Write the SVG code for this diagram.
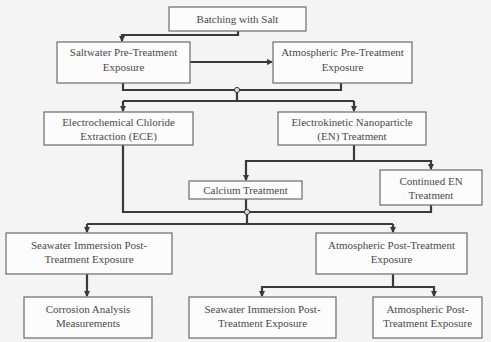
<svg xmlns="http://www.w3.org/2000/svg" width="491" height="342" viewBox="0 0 491 342">
<defs>
<style>
.box{fill:#fcfcfc;stroke:#6a6a6a;stroke-width:1.2}
.t{font-family:'Liberation Serif','DejaVu Serif',serif;font-size:11px;fill:#4a4a4a;text-anchor:middle}
.c{fill:none;stroke:#3a3a3a;stroke-width:2.2}
.j{fill:#cfe0e6;stroke:#3a3a3a;stroke-width:1}
</style>
<marker id="a" viewBox="0 0 6 6" refX="5" refY="3" markerWidth="3" markerHeight="3" orient="auto"><path d="M0,0L6,3L0,6z" fill="#3a3a3a"/></marker>
</defs>
<rect width="491" height="342" fill="#f4f4f4"/>
<g id="connectors">
<path class="c" d="M238,31V35H122V41" marker-end="url(#a)"/>
<path class="c" d="M190,62H272" marker-end="url(#a)"/>
<path class="c" d="M123,83V90H341V83"/>
<path class="c" d="M237,90V101"/>
<path class="c" d="M123,101H354"/>
<path class="c" d="M123,101V111" marker-end="url(#a)"/>
<path class="c" d="M354,101V111" marker-end="url(#a)"/>
<path class="c" d="M354,145V161H246V180" marker-end="url(#a)"/>
<path class="c" d="M354,161H431V169" marker-end="url(#a)"/>
<path class="c" d="M123,145V212H431V205"/>
<path class="c" d="M246,199V212"/>
<path class="c" d="M247,212V224"/>
<path class="c" d="M87,224H393"/>
<path class="c" d="M87,224V232" marker-end="url(#a)"/>
<path class="c" d="M393,224V232" marker-end="url(#a)"/>
<path class="c" d="M87,274V296" marker-end="url(#a)"/>
<path class="c" d="M393,274V287H262V296" marker-end="url(#a)"/>
<path class="c" d="M393,287H434V296" marker-end="url(#a)"/>
<circle class="j" cx="237" cy="90" r="2.6"/>
<circle class="j" cx="247" cy="212" r="2.6"/>
</g>
<g id="n1"><rect class="box" x="169" y="7" width="137" height="24"/><text class="t" x="237.5" y="23">Batching with Salt</text></g>
<g id="n2"><rect class="box" x="57" y="42" width="133" height="41"/><text class="t" x="123.5" y="56">Saltwater Pre-Treatment</text><text class="t" x="123.5" y="71">Exposure</text></g>
<g id="n3"><rect class="box" x="273" y="42" width="139" height="41"/><text class="t" x="342.5" y="56">Atmospheric Pre-Treatment</text><text class="t" x="342.5" y="71">Exposure</text></g>
<g id="n4"><rect class="box" x="44" y="112" width="149" height="33"/><text class="t" x="118.5" y="126">Electrochemical Chloride</text><text class="t" x="118.5" y="140">Extraction (ECE)</text></g>
<g id="n5"><rect class="box" x="278" y="112" width="148" height="33"/><text class="t" x="352" y="126">Electrokinetic Nanoparticle</text><text class="t" x="352" y="140">(EN) Treatment</text></g>
<g id="n6"><rect class="box" x="189" y="181" width="113" height="18"/><text class="t" x="245.5" y="194">Calcium Treatment</text></g>
<g id="n7"><rect class="box" x="380" y="170" width="102" height="35"/><text class="t" x="431" y="185">Continued EN</text><text class="t" x="431" y="199">Treatment</text></g>
<g id="n8"><rect class="box" x="6" y="233" width="166" height="41"/><text class="t" x="89" y="249">Seawater Immersion Post-</text><text class="t" x="89" y="263">Treatment Exposure</text></g>
<g id="n9"><rect class="box" x="316" y="233" width="151" height="41"/><text class="t" x="391.5" y="249">Atmospheric Post-Treatment</text><text class="t" x="391.5" y="263">Exposure</text></g>
<g id="n10"><rect class="box" x="24" y="297" width="128" height="41"/><text class="t" x="88" y="313">Corrosion Analysis</text><text class="t" x="88" y="327">Measurements</text></g>
<g id="n11"><rect class="box" x="189" y="297" width="147" height="41"/><text class="t" x="262.5" y="313">Seawater Immersion Post-</text><text class="t" x="262.5" y="327">Treatment Exposure</text></g>
<g id="n12"><rect class="box" x="373" y="297" width="109" height="41"/><text class="t" x="427.5" y="313">Atmospheric Post-</text><text class="t" x="427.5" y="327">Treatment Exposure</text></g>
</svg>
